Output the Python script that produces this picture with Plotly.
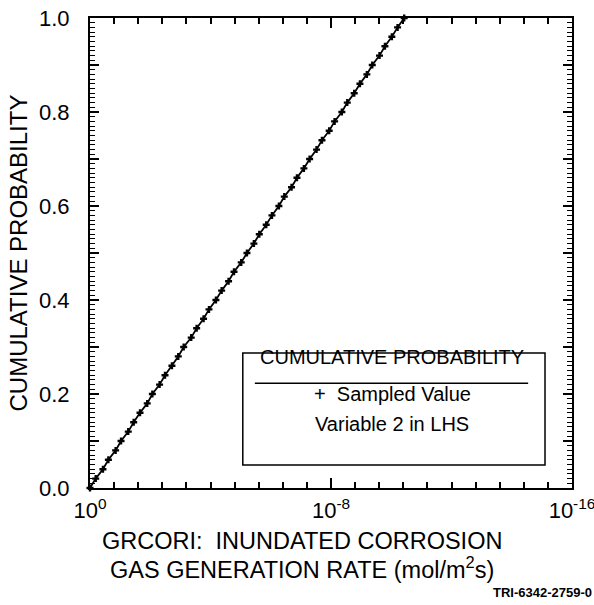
import plotly.graph_objects as go

# ---- data ----
cum_prob = [0.00, 0.02, 0.04, 0.06, 0.08, 0.10, 0.12, 0.14, 0.16, 0.18,
            0.20, 0.22, 0.24, 0.26, 0.28, 0.30, 0.32, 0.34, 0.36, 0.38,
            0.40, 0.42, 0.44, 0.46, 0.48, 0.50, 0.52, 0.54, 0.56, 0.58,
            0.60, 0.62, 0.64, 0.66, 0.68, 0.70, 0.72, 0.74, 0.76, 0.78,
            0.80, 0.82, 0.84, 0.86, 0.88, 0.90, 0.92, 0.94, 0.96, 0.98, 1.00]
# sampled values, as negative base-10 exponents (x = 10^-e)
neg_exponent = [0.00, 0.19, 0.43, 0.61, 0.85, 1.03, 1.27, 1.45, 1.66, 1.90,
                2.07, 2.31, 2.49, 2.72, 2.93, 3.11, 3.36, 3.54, 3.77, 3.95,
                4.18, 4.37, 4.60, 4.78, 5.02, 5.21, 5.44, 5.62, 5.85, 6.04,
                6.27, 6.45, 6.69, 6.87, 7.10, 7.29, 7.52, 7.70, 7.94, 8.12,
                8.36, 8.54, 8.77, 8.96, 9.19, 9.37, 9.61, 9.79, 10.02, 10.21, 10.43]
sampled_rate = [10 ** (-e) for e in neg_exponent]

x_tick_values = [1e0, 1e-8, 1e-16]
x_tick_labels = ["10<sup>0</sup>", "10<sup>-8</sup>", "10<sup>-16</sup>"]
y_tick_values = [0.0, 0.1, 0.2, 0.3, 0.4, 0.5, 0.6, 0.7, 0.8, 0.9, 1.0]
y_tick_labels = ["0.0", "", "0.2", "", "0.4", "", "0.6", "", "0.8", "", "1.0"]

FONT = "Liberation Sans, Arial, Helvetica, sans-serif"
X_RANGE = [0, -16]
Y_RANGE = [0, 1]

minor_x = [10 ** (-0.8 * k) for k in range(1, 20) if k != 10]
minor_y = [k / 100 for k in range(1, 100) if k % 10 != 0]

fig = go.Figure()
# invisible helper traces so the tick-only overlay axes are drawn
fig.add_trace(go.Scatter(x=sampled_rate, y=cum_prob, xaxis="x2", yaxis="y2",
                         mode="lines", line=dict(width=0), opacity=0,
                         hoverinfo="skip", showlegend=False))
fig.add_trace(go.Scatter(x=sampled_rate, y=cum_prob, xaxis="x3", yaxis="y3",
                         mode="lines", line=dict(width=0), opacity=0,
                         hoverinfo="skip", showlegend=False))
# sampled values
fig.add_trace(go.Scatter(
    x=sampled_rate, y=cum_prob, mode="lines+markers",
    line=dict(color="black", width=1.8),
    marker=dict(symbol="cross-thin", size=5, line=dict(color="black", width=2.4)),
    showlegend=False, cliponaxis=False,
))

tick_only = dict(showline=False, showgrid=False, zeroline=False, showticklabels=False,
                 ticks="inside", tickcolor="black", automargin=False,
                 tickmode="array")

fig.update_layout(
    xaxis=dict(
        type="log", range=X_RANGE, automargin=False,
        tickmode="array", tickvals=x_tick_values, ticktext=x_tick_labels,
        ticks="inside", ticklen=10, tickwidth=1.8, tickcolor="black",
        showline=True, linecolor="black", linewidth=2, mirror="ticks",
        showgrid=False, zeroline=False,
        tickfont=dict(family=FONT, size=22, color="black"),
        ticklabelstandoff=2, ticklabeloverflow="allow",
    ),
    yaxis=dict(
        range=Y_RANGE, automargin=False,
        tickmode="array", tickvals=y_tick_values, ticktext=y_tick_labels,
        ticks="inside", ticklen=9, tickwidth=1.8, tickcolor="black",
        showline=True, linecolor="black", linewidth=2, mirror="ticks",
        showgrid=False, zeroline=False,
        tickfont=dict(family=FONT, size=22, color="black"),
        ticklabelstandoff=14,
    ),
    xaxis2=dict(type="log", range=X_RANGE, overlaying="x", side="bottom", anchor="y2",
                tickvals=minor_x, ticklen=6, tickwidth=1.5, **tick_only),
    yaxis2=dict(range=Y_RANGE, overlaying="y", side="left", anchor="x2",
                tickvals=minor_y, ticklen=5, tickwidth=1.2, **tick_only),
    xaxis3=dict(type="log", range=X_RANGE, overlaying="x", side="top", anchor="y3",
                tickvals=minor_x, ticklen=6, tickwidth=1.5, **tick_only),
    yaxis3=dict(range=Y_RANGE, overlaying="y", side="right", anchor="x3",
                tickvals=minor_y, ticklen=5, tickwidth=1.2, **tick_only),
)

# axis titles
fig.add_annotation(xref="paper", yref="paper", x=-0.1504, y=0.5, textangle=-90,
                   text="CUMULATIVE PROBABILITY", showarrow=False,
                   xanchor="center", yanchor="middle",
                   font=dict(family=FONT, size=24, color="black"))
fig.add_annotation(xref="paper", yref="paper", x=0.44, y=-0.1128,
                   text="GRCORI:&nbsp; INUNDATED CORROSION", showarrow=False,
                   xanchor="center", yanchor="middle",
                   font=dict(family=FONT, size=23.5, color="black"))
fig.add_annotation(xref="paper", yref="paper", x=0.439, y=-0.1702,
                   text="GAS GENERATION RATE (mol/m<sup>2</sup>s)", showarrow=False,
                   xanchor="center", yanchor="middle",
                   font=dict(family=FONT, size=23.5, color="black"))

# legend box drawn as a framed text block
fig.add_shape(type="rect", xref="paper", yref="paper",
              x0=0.317, x1=0.944, y0=0.049, y1=0.287,
              line=dict(color="black", width=1.5), fillcolor="white", layer="above")
fig.add_shape(type="line", xref="paper", yref="paper",
              x0=0.342, x1=0.909, y0=0.223, y1=0.223,
              line=dict(color="black", width=1.5))
fig.add_annotation(xref="paper", yref="paper", x=0.627, y=0.251,
                   text="CUMULATIVE PROBABILITY", showarrow=False,
                   font=dict(family=FONT, size=20, color="black"))
fig.add_annotation(xref="paper", yref="paper", x=0.627, y=0.172,
                   text="+&nbsp; Sampled Value", showarrow=False,
                   font=dict(family=FONT, size=20, color="black"))
fig.add_annotation(xref="paper", yref="paper", x=0.627, y=0.108,
                   text="Variable 2 in LHS", showarrow=False,
                   font=dict(family=FONT, size=20, color="black"))
fig.add_annotation(xref="paper", yref="paper", x=1.045, y=-0.2234,
                   xanchor="right", yanchor="middle",
                   text="<b>TRI-6342-2759-0</b>", showarrow=False,
                   font=dict(family=FONT, size=13, color="black"))

fig.update_layout(
    width=594, height=605,
    margin=dict(l=90, r=22, t=18, b=117),
    plot_bgcolor="white", paper_bgcolor="white",
    font=dict(family=FONT, color="black"),
)

fig.write_html("out.html", config={"displayModeBar": False},
               post_script="document.body.style.margin='0';document.body.style.overflow='hidden';")
